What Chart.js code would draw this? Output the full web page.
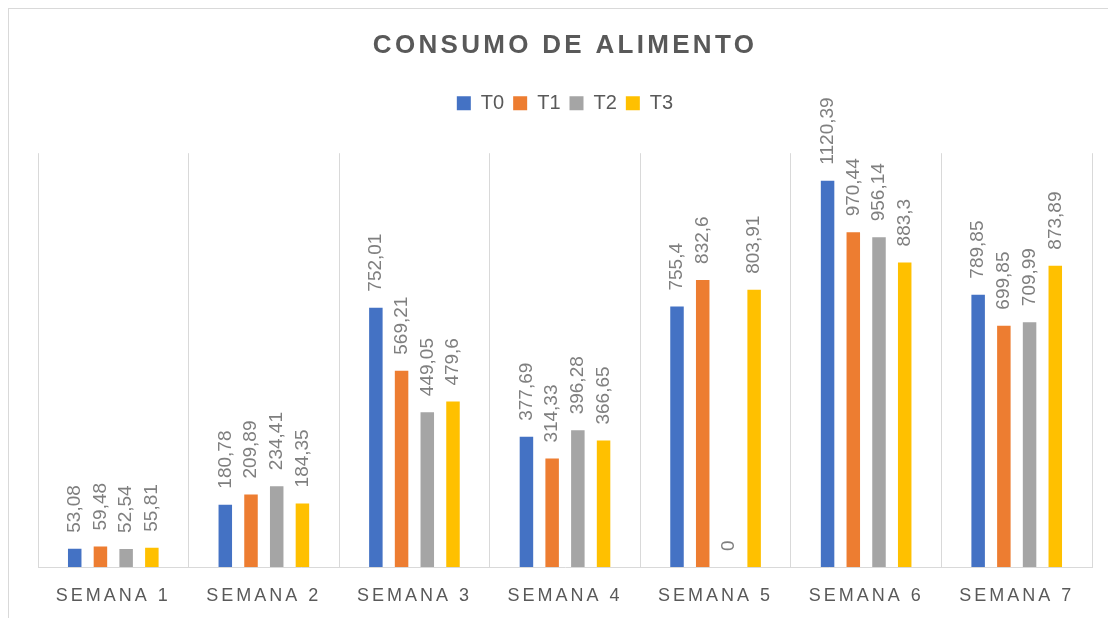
<!DOCTYPE html>
<html>
<head>
<meta charset="utf-8">
<title>Consumo de alimento</title>
<script src="https://cdn.jsdelivr.net/npm/chart.js@4.4.0/dist/chart.umd.min.js"></script>
<style>
  html, body { margin: 0; padding: 0; background: #fff; overflow: hidden; }
  #frame { position: absolute; left: 8px; top: 8px; width: 1200px; height: 700px; border: 1px solid #d9d9d9; }
  #wrap { position: absolute; left: 0; top: 0; width: 1108px; height: 618px; }
</style>
</head>
<body>
<div id="frame"></div>
<div id="wrap"><canvas id="chart"></canvas></div>
<script>
const semanas = ['SEMANA 1', 'SEMANA 2', 'SEMANA 3', 'SEMANA 4', 'SEMANA 5', 'SEMANA 6', 'SEMANA 7'];
const t0 = [53.08, 180.78, 752.01, 377.69, 755.4, 1120.39, 789.85];
const t1 = [59.48, 209.89, 569.21, 314.33, 832.6, 970.44, 699.85];
const t2 = [52.54, 234.41, 449.05, 396.28, 0, 956.14, 709.99];
const t3 = [55.81, 184.35, 479.6, 366.65, 803.91, 883.3, 873.89];

const fuente = '"Liberation Sans", Arial, sans-serif';
const gris = '#595959';

// canvas letterSpacing on one draw method only
function spaced(obj, name, px) {
  if (!obj || obj[name].spaced) return;
  const orig = obj[name];
  const fn = function () {
    const ctx = this.ctx;
    ctx.save();
    ctx.letterSpacing = px;
    orig.apply(this, arguments);
    ctx.restore();
  };
  fn.spaced = true;
  obj[name] = fn;
}

const ajustes = {
  id: 'ajustes',
  afterInit(chart) {
    spaced(chart.titleBlock, 'draw', '3.3px');
    // extra room under the legend, like Excel
    const legend = chart.legend;
    const fit = legend.fit;
    legend.fit = function () {
      fit.apply(this, arguments);
      this.height += 30;
    };
  },
  beforeDraw(chart) {
    spaced(chart.scales.x, 'drawLabels', '3px');
  }
};

const etiquetas = {
  id: 'etiquetas',
  afterDatasetsDraw(chart) {
    const ctx = chart.ctx;
    ctx.save();
    ctx.font = '19px ' + fuente;
    ctx.fillStyle = '#7f7f7f';
    ctx.textAlign = 'left';
    ctx.textBaseline = 'middle';
    chart.data.datasets.forEach(function (ds, i) {
      chart.getDatasetMeta(i).data.forEach(function (bar, j) {
        ctx.save();
        ctx.translate(bar.x, bar.y - 16);
        ctx.rotate(-Math.PI / 2);
        ctx.fillText(String(ds.data[j]).replace('.', ','), 0, 0);
        ctx.restore();
      });
    });
    ctx.restore();
  }
};

new Chart('chart', {
  type: 'bar',
  data: {
    labels: semanas,
    datasets: [
      { label: 'T0', data: t0, backgroundColor: '#4472c4' },
      { label: 'T1', data: t1, backgroundColor: '#ed7d31' },
      { label: 'T2', data: t2, backgroundColor: '#a5a5a5' },
      { label: 'T3', data: t3, backgroundColor: '#ffc000' },
    ],
  },
  options: {
    responsive: true,
    maintainAspectRatio: false,
    animation: false,
    devicePixelRatio: 1,
    categoryPercentage: 0.683,
    barPercentage: 0.525,
    layout: { padding: { left: 38, right: 16, top: 0, bottom: 11 } },
    plugins: {
      title: {
        display: true,
        text: 'CONSUMO DE ALIMENTO',
        color: gris,
        font: { family: fuente, size: 26, weight: 'bold' },
        padding: { top: 30, bottom: 23 },
      },
      legend: {
        labels: {
          boxWidth: 14,
          boxHeight: 14,
          padding: 9,
          color: gris,
          font: { family: fuente, size: 20 },
        },
      },
      tooltip: { enabled: false },
    },
    scales: {
      x: {
        grid: { color: '#d9d9d9', drawTicks: false },
        border: { color: '#d9d9d9' },
        ticks: {
          color: gris,
          font: { family: fuente, size: 18 },
          padding: 18,
          maxRotation: 0,
          autoSkip: false,
        },
        afterFit(scale) {
          scale.height = 40;
        },
      },
      y: { display: false, min: 0, max: 1200 },
    },
  },
  plugins: [ajustes, etiquetas],
});
</script>
</body>
</html>
